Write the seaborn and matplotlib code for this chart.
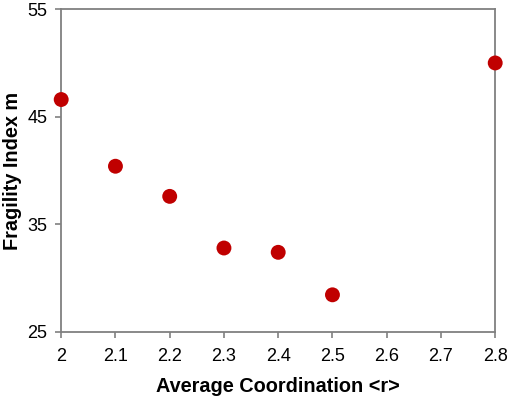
import matplotlib
matplotlib.use('Agg')
import matplotlib.pyplot as plt
import seaborn as sns
import pandas as pd

# average coordination vs fragility index
coordination = [2.0, 2.1, 2.2, 2.3, 2.4, 2.5, 2.8]
fragility = [46.6, 40.4, 37.6, 32.8, 32.4, 28.45, 50.0]
x_ticks = [2, 2.1, 2.2, 2.3, 2.4, 2.5, 2.6, 2.7, 2.8]
x_labels = ['2', '2.1', '2.2', '2.3', '2.4', '2.5', '2.6', '2.7', '2.8']
y_ticks = [25, 35, 45, 55]

df = pd.DataFrame({'r': coordination, 'm': fragility})

sns.set_style('white')
plt.rcParams['font.family'] = ['Liberation Sans', 'DejaVu Sans']

fig = plt.figure(figsize=(5.1, 3.98), dpi=100)
ax = fig.add_axes([0.12, 0.166, 0.851, 0.811])

sns.scatterplot(x='r', y='m', data=df, ax=ax, color='#C00000', s=115,
                edgecolor='none', clip_on=False, zorder=3)

ax.set_xlim(2, 2.8)
ax.set_ylim(25, 55)
ax.set_xticks(x_ticks)
ax.set_xticklabels(x_labels)
ax.set_yticks(y_ticks)
ax.tick_params(axis='both', direction='out', length=4, width=1.2,
               color='#808080', labelsize=13, labelcolor='black',
               bottom=True, left=True)
ax.tick_params(axis='x', pad=7.5)
ax.tick_params(axis='y', pad=6)
for sp in ax.spines.values():
    sp.set_color('#808080')
    sp.set_linewidth(1.3)

ax.set_xlabel('Average Coordination <r>', fontsize=14.3, fontweight='bold',
              color='black', labelpad=8.5)
ax.set_ylabel('Fragility Index m', fontsize=14.3, fontweight='bold',
              color='black', labelpad=4)

fig.savefig('out.png', dpi=100)
